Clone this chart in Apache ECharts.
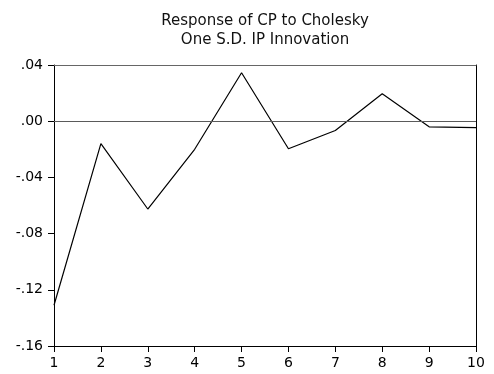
<!DOCTYPE html>
<html>
<head>
<meta charset="utf-8">
<script src="https://cdn.jsdelivr.net/npm/echarts@6/dist/echarts.min.js"></script>
<style>
  html, body { margin: 0; padding: 0; background: #fff; }
  #chart { width: 494px; height: 374px; }
</style>
</head>
<body>
<div id="chart"></div>
<script>
// Impulse response horizon (periods) and the response of CP
const periods = ['1', '2', '3', '4', '5', '6', '7', '8', '9', '10'];
const response = [-0.131, -0.016, -0.0625, -0.020, 0.0345, -0.0196, -0.0066, 0.0195, -0.0040, -0.0046];

// Title lines
const titleLines = ['Response of CP to Cholesky', 'One S.D. IP Innovation'];

// Value axis range
const yMin = -0.16;
const yMax = 0.04;
const yStep = 0.04;

const FONT = '"DejaVu Sans", "Liberation Sans", Arial, sans-serif';

function fmtTick(v) {
  // EViews style: drop the leading zero (".04", "-.12")
  return Number(v).toFixed(2).replace(/^(-?)0\./, '$1.');
}

const chart = echarts.init(document.getElementById('chart'), null, { renderer: 'canvas' });

chart.setOption({
  animation: false,
  backgroundColor: '#ffffff',
  grid: { left: 54, right: 18, top: 65, bottom: 28, containLabel: false },
  graphic: titleLines.map((t, i) => ({
    type: 'text',
    x: 265,
    y: 21.5 + i * 18.3,
    style: {
      text: t,
      fill: '#111',
      font: '15px ' + FONT,
      textAlign: 'center',
      textVerticalAlign: 'middle'
    }
  })),
  xAxis: [
    {
      type: 'category',
      data: periods,
      boundaryGap: false,
      position: 'bottom',
      axisLine: { onZero: false, lineStyle: { color: '#000', width: 1 } },
      axisTick: { show: true, length: 6, inside: false, lineStyle: { color: '#000' } },
      axisLabel: { color: '#000', fontSize: 14, fontFamily: FONT, margin: 10 },
      splitLine: { show: false }
    },
    {
      type: 'category',
      data: periods,
      boundaryGap: false,
      position: 'top',
      axisLine: { show: true, onZero: false, lineStyle: { color: '#666', width: 1 } },
      axisTick: { show: false },
      axisLabel: { show: false },
      splitLine: { show: false }
    }
  ],
  yAxis: [
    {
      type: 'value',
      min: yMin,
      max: yMax,
      interval: yStep,
      position: 'left',
      axisLine: { show: true, onZero: false, lineStyle: { color: '#000', width: 1 } },
      axisTick: { show: true, length: 6, inside: false, lineStyle: { color: '#000' } },
      axisLabel: { color: '#000', fontSize: 14, fontFamily: FONT, margin: 11, formatter: fmtTick },
      splitLine: { show: false }
    },
    {
      type: 'value',
      min: yMin,
      max: yMax,
      interval: yStep,
      position: 'right',
      axisLine: { show: true, onZero: false, lineStyle: { color: '#000', width: 1 } },
      axisTick: { show: false },
      axisLabel: { show: false },
      splitLine: { show: false }
    }
  ],
  series: [
    {
      type: 'line',
      data: response,
      xAxisIndex: 0,
      yAxisIndex: 0,
      symbol: 'none',
      lineStyle: { color: '#000', width: 1.2 },
      markLine: {
        silent: true,
        symbol: 'none',
        label: { show: false },
        lineStyle: { color: '#5a5a5a', width: 1, type: 'solid' },
        data: [{ yAxis: 0 }]
      }
    },
    {
      // empty series that binds the top and right frame axes
      type: 'line',
      data: [],
      xAxisIndex: 1,
      yAxisIndex: 1,
      silent: true
    }
  ]
});
</script>
</body>
</html>
